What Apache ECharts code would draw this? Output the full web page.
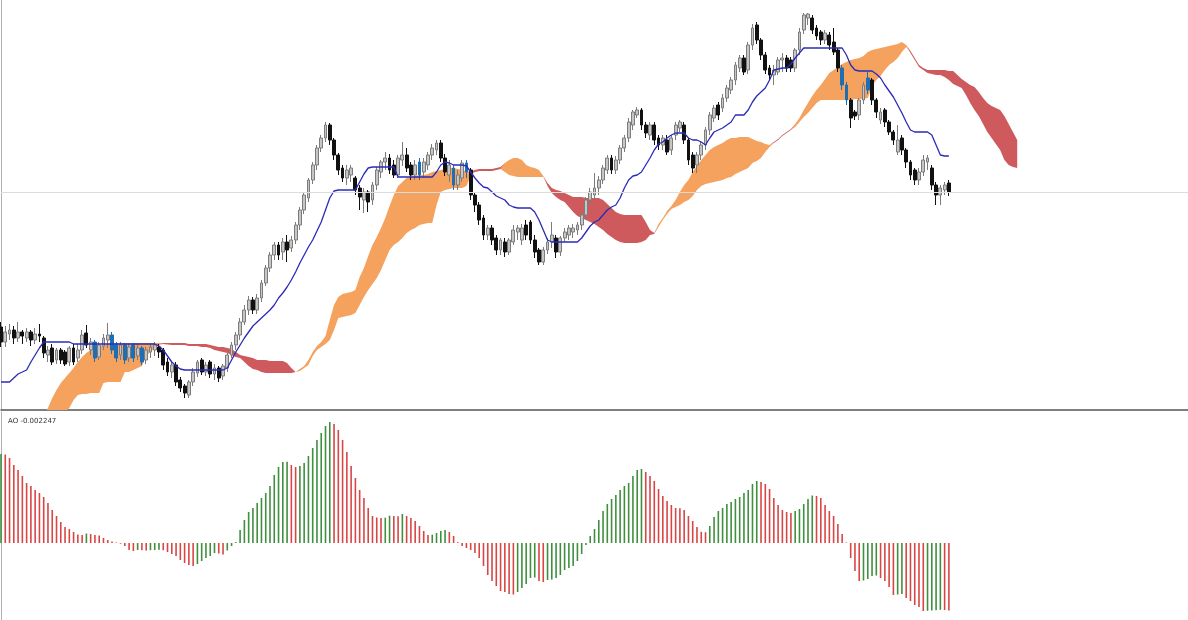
<!DOCTYPE html>
<html><head><meta charset="utf-8">
<script src="https://cdn.jsdelivr.net/npm/echarts@6/dist/echarts.min.js"></script>
<style>html,body{margin:0;padding:0;background:#fff}#c{width:1188px;height:620px}</style>
</head><body><div id="c"></div>
<script>
// candles: [open, close, low, high]
const candles = [
[83,68,63,88],[68,78,63,84],[76,80,70,86],[80,72,66,84],[72,78,68,88],[78,74,66,80],[72,78,68,82],[78,70,64,80],[70,76,66,82],[76,74,68,86],
[72,57,52,74],[55,60,48,64],[62,48,45,66],[50,60,46,62],[60,50,46,62],[58,46,44,60],[48,62,44,64],[62,48,45,66],[52,60,48,66],[60,75,56,80],
[77,65,62,85],[60,68,55,72],[68,52,48,70],[53,65,50,68],[64,72,60,76],[70,75,62,87],[75,60,56,78],[65,52,48,68],[55,65,50,68],[65,50,46,67],
[52,63,48,66],[65,52,48,67],[54,62,50,66],[62,48,45,64],[50,60,46,63],[58,63,52,66],[60,65,54,68],[63,58,52,66],[60,45,40,62],[48,38,34,52],
[38,45,32,48],[45,28,24,48],[30,22,18,33],[24,17,12,26],[15,28,12,30],[28,38,24,42],[37,48,33,50],[50,38,35,52],[38,45,34,48],[48,36,32,50],
[36,42,30,46],[42,32,28,44],[34,44,30,46],[42,55,38,57],[55,65,52,68],[65,75,60,78],[75,88,70,92],[88,100,85,105],[100,110,95,114],[110,100,96,113],
[100,112,96,116],[112,127,108,130],[127,142,124,145],[142,155,138,158],[155,165,150,168],[165,155,150,168],[158,168,150,172],[168,160,148,175],[162,170,158,174],[170,185,166,188],
[185,200,180,203],[200,215,196,218],[212,230,208,232],[230,245,226,248],[245,262,240,265],[262,272,258,275],[272,285,268,288],[285,270,265,287],[270,255,250,272],[255,240,235,257],
[242,232,228,245],[232,240,225,245],[235,242,228,245],[232,220,215,234],[222,213,200,225],[210,218,197,222],[218,208,198,220],[210,225,205,228],[225,240,220,243],[238,248,232,250],
[248,252,240,258],[252,240,236,256],[245,235,232,250],[235,252,232,255],[250,255,244,268],[255,242,238,262],[245,235,230,248],[235,245,230,250],[248,235,230,252],[238,248,232,252],
[245,255,240,258],[255,262,250,266],[260,267,255,270],[267,252,248,270],[252,238,234,256],[235,245,228,250],[242,225,220,245],[225,235,220,240],[232,247,228,250],[247,238,232,250],
[240,215,210,242],[215,205,198,218],[205,190,185,208],[192,175,170,195],[175,182,170,185],[182,170,165,185],[172,160,155,175],[160,170,155,172],[168,158,153,172],[158,170,155,172],
[168,180,165,185],[178,182,170,185],[170,182,165,186],[185,175,170,190],[188,170,166,190],[170,158,152,175],[160,148,145,162],[148,160,145,163],[160,168,156,172],[168,175,162,188],
[172,158,152,175],[158,172,154,174],[172,178,168,182],[175,182,170,185],[178,182,172,186],[180,185,175,188],[185,195,180,198],[195,210,190,213],[210,218,205,222],[215,222,210,237],
[222,230,215,234],[230,242,226,245],[240,252,236,255],[252,240,236,255],[240,250,236,254],[250,262,246,265],[262,272,258,275],[272,288,268,292],[285,298,280,300],[295,300,292,303],
[300,285,280,302],[285,277,272,288],[275,285,270,288],[285,270,265,288],[272,265,260,275],[265,272,260,275],[270,258,255,275],[260,272,255,275],[275,285,270,288],[282,288,278,290],
[285,270,266,288],[270,250,245,272],[255,242,237,258],[245,255,237,258],[255,265,250,268],[265,280,260,283],[280,295,275,298],[292,302,288,305],[305,295,290,308],[302,312,298,316],
[312,322,308,325],[320,330,316,333],[330,345,325,348],[342,352,338,355],[352,338,335,355],[340,365,336,368],[365,382,360,386],[385,370,366,388],[370,355,350,372],[355,340,336,358],
[342,335,330,345],[335,340,325,345],[338,350,335,353],[350,352,338,357],[352,342,338,355],[350,342,338,353],[342,360,338,362],[360,378,355,382],[380,395,376,397],[392,396,385,397],
[392,380,376,395],[382,374,370,385],[378,370,365,380],[370,377,366,380],[375,365,360,378],[368,358,355,382],[360,342,338,362],[342,325,320,345],[325,310,305,328],[310,292,282,312],
[298,294,290,300],[295,310,290,312],[310,325,306,328],[320,332,316,338],[330,310,305,332],[310,298,292,312],[290,298,286,302],[300,288,283,302],[288,278,275,290],[278,270,265,280],
[258,270,255,285],[272,260,255,275],[260,248,242,262],[248,235,230,250],[240,230,225,242],[230,238,225,242],[238,250,234,255],[248,252,240,255],[242,225,220,245],[225,215,205,228],
[215,222,205,225],[220,225,215,228],[227,218,214,230]
];
// candles drawn in blue (inside the cloud)
const blueCandles = [22,26,27,29,31,33,98,106,109,197,198,203];

const kijun = [
28,28,28,32,36,38,40,48,55,62,
68,68,68,68,68,68,68,66,66,66,
66,66,66,66,66,66,66,66,66,66,
66,66,66,66,66,66,66,64,60,54,
48,44,41,40,40,40,40,40,40,40,
40,40,40,42,50,58,65,72,78,84,
88,92,96,100,105,112,117,123,130,138,
147,155,163,170,179,188,200,212,219,220,
220,220,220,220,228,236,242,243,243,243,
243,243,243,233,233,233,233,233,233,233,
233,233,238,245,248,247,245,245,245,244,
238,232,227,223,222,218,214,212,210,205,
203,202,202,202,202,198,190,180,170,168,
168,168,168,168,168,168,172,178,184,188,
190,195,200,203,205,212,222,230,234,235,
238,245,252,260,266,268,272,275,277,277,
277,272,270,270,268,265,272,278,280,282,
285,288,295,295,295,300,308,314,318,322,
330,340,341,342,342,346,352,357,362,362,
362,362,362,362,362,362,362,362,355,345,
340,339,339,339,339,336,332,325,319,313,
305,297,288,280,278,278,278,278,275,265,
255,254,254
];

const senkouA = [
-60,-55,-50,-45,-40,-35,-30,-23,-17,-10,
-4,2,12,20,27,32,37,42,48,53,
57,60,62,64,65,66,67,67,67,67,
67,67,67,67,67,67,67,67,66,65.5,
65,65,65,65,64,64,64,63,63,62,
60,59,58,57,55,53,52,48,44,41,
40,38,37,37,37,37,37,37,37,38,
41,44,50,58,64,68,74,90,105,113,
116,117,118,120,133,142,154,165,173,182,
192,204,215,224,228,232,233,234,235,235,
236,238,239,240,241,242,242,241,240,239,
238,238,239,239,239,239,240,241,247,250,
252,252,250,245,243,242,240,234,224,217,
213,210,208,203,198,194,192,190,188,186,
183,180,176,173,170,168,167,167,167,167,
168,170,175,176,186,192,199,204,210,218,
225,230,238,244,250,255,260,263,265,267,
270,272,272,273,273,273,271,269,268,266,
265,267,270,274,277,280,286,292,300,307,
314,320,325,331,337,340,343,346,348,350,
351,352,354,358,360,361,362,363,364,365,
366,368,365,357,350,343,340,337,336,335,
335,333,330,326,324,322,315,307,300,294,
286,278,272,266,260,250,245,243,242
];
const senkouB = [
-90,-85,-80,-75,-70,-65,-60,-55,-50,-45,
-35,-30,-22,-15,-8,-2,2,10,15,16,
16,17,17,17,27,28,28,28,28,38,
38,40,42,44,54,58,62,65,67,67,
67,67,67,67,66,66,66,66,66,65,
64,63,63,62,61,58,55,54,53,52,
50,50,50,49,49,49,49,47,42,38,
39,42,45,54,60,63,66,70,80,92,
93,94,95,97,105,113,120,126,132,140,
150,160,165,168,172,177,180,182,185,186,
187,187,205,218,220,221,222,222,222,224,
234,240,241,241,241,241,242,243,238,235,
234,233,233,233,233,233,233,233,227,222,
220,219,217,215,213,213,213,212,212,212,
212,210,206,202,198,196,195,195,195,195,
195,188,180,177,183,190,196,201,203,205,
208,210,214,220,224,226,227,228,229,230,
232,233,236,238,240,242,247,249,252,258,
263,268,271,275,278,281,283,288,293,297,
302,307,310,310,310,310,310,310,310,310,
311,311,311,312,324,330,334,340,345,348,
352,358,363,359,352,345,342,340,340,340,
340,340,339,339,335,331,328,325,323,318,
312,307,304,302,300,294,286,278,270
];

const ao = [
89,88.5,85,78,73,67,60,57,53,50,
46,40,33,27,21,16,14,11,8.5,8,
9.5,9,8,7.5,5,3,1.5,0.5,-0.7,-3,
-7,-8,-7,-7.3,-7.6,-7.2,-7,-6.8,-7.2,-9,
-11,-13,-17,-20,-22,-23,-21,-18,-15,-13,
-10,-10.5,-11.5,-7.5,-3,1,13,23,31,35,
40,45,50,57,68,76,81,81.3,78,76,
77,80,87,95,103,110,117,121,119,113,
103,91,77,65,53,45,35,27,25.5,25,
25.3,27.3,27,26.8,29,27,25,22,17,12,
8,8.3,10,12,13,11,7,0.7,-3,-5,
-7,-10,-15,-23,-32,-38,-43,-48,-49,-51,
-51.5,-49,-45,-41,-35,-34.5,-38,-39,-37,-36.5,
-35,-32,-27,-25,-23,-18,-11,-2,7,14,
23,32,39,44,48,53,57,60,67,73,
74,71,67,62,54,47,42,38,35,34.7,
33,27,22,16,11.2,10.8,17,26,32,35,
39,41,44,46,50,53,59,62,61,59,
54,45,38,33,31,30,32,34,39,44,
47.5,47,45,38,32,27,19,9,0.5,-15,
-28,-38,-37.5,-36,-33,-32.5,-35,-38,-44,-52,
-51.5,-51,-55,-58,-62,-64,-68,-67.8,-67.5,-67.2,
-66.8,-67,-67.5
];
const aoLabel = 'AO -0.002247';
const barSlots = 279;
const categories = Array.from({length: barSlots}, (_, i) => 'bar ' + i);

const UP_FILL = '#c6c6c6', UP_BORDER = '#7c7c7c', DOWN = '#111111', BLUE = '#1f6db3';
const candleItems = candles.map((c, i) => {
  let fill, border;
  if (blueCandles.indexOf(i) >= 0) { fill = BLUE; border = BLUE; }
  else if (c[1] >= c[0]) { fill = UP_FILL; border = UP_BORDER; }
  else { fill = DOWN; border = DOWN; }
  return { value: c, itemStyle: { color: fill, color0: fill, borderColor: border, borderColor0: border } };
});

const cloudBase = senkouA.map((a, i) => Math.min(a, senkouB[i]));
const cloudBull = senkouA.map((a, i) => Math.max(a - senkouB[i], 0));
const cloudBear = senkouA.map((a, i) => Math.max(senkouB[i] - a, 0));

const aoItems = ao.map((v, i) => ({
  value: v,
  itemStyle: { color: (i === 0 || v >= ao[i - 1]) ? '#3f8f3f' : '#d94545' }
}));

const lastClose = candles[candles.length - 1][1];

const chart = echarts.init(document.getElementById('c'));
chart.setOption({
  animation: false,
  backgroundColor: '#ffffff',
  title: { text: aoLabel, left: 3, top: 413, textStyle: { fontSize: 7, fontWeight: 'normal', color: '#333', fontFamily: 'DejaVu Sans' } },
  grid: [
    { left: 1, right: 0, top: 0, height: 410 },
    { left: 1, right: 0, top: 412, height: 208 }
  ],
  xAxis: [
    { type: 'category', gridIndex: 0, data: categories, boundaryGap: false,
      axisLine: { show: true, onZero: false, lineStyle: { color: '#555', width: 1.5 } },
      axisTick: { show: false }, axisLabel: { show: false }, splitLine: { show: false } },
    { type: 'category', gridIndex: 1, data: categories, boundaryGap: false,
      axisLine: { show: false }, axisTick: { show: false }, axisLabel: { show: false }, splitLine: { show: false } }
  ],
  yAxis: [
    { type: 'value', gridIndex: 0, min: 0, max: 410, axisLine: { show: true, lineStyle: { color: '#b0b0b0' } },
      axisTick: { show: false }, axisLabel: { show: false }, splitLine: { show: false } },
    { type: 'value', gridIndex: 1, min: -77, max: 131, axisLine: { show: true, lineStyle: { color: '#b0b0b0' } },
      axisTick: { show: false }, axisLabel: { show: false }, splitLine: { show: false } }
  ],
  series: [
    { name: 'cloudBase', type: 'line', stack: 'cloud', stackStrategy: 'all', data: cloudBase,
      showSymbol: false, lineStyle: { width: 0, opacity: 0 }, silent: true, z: 1 },
    { name: 'cloudBull', type: 'line', stack: 'cloud', stackStrategy: 'all', data: cloudBull,
      showSymbol: false, lineStyle: { width: 0, opacity: 0 }, areaStyle: { color: '#f4a25e', opacity: 1 }, silent: true, z: 1 },
    { name: 'cloudBear', type: 'line', stack: 'cloud', stackStrategy: 'all', data: cloudBear,
      showSymbol: false, lineStyle: { width: 0, opacity: 0 }, areaStyle: { color: '#cf5a5e', opacity: 1 }, silent: true, z: 1 },
    { name: 'price', type: 'candlestick', data: candleItems, barWidth: 3.3, z: 3,
      markLine: { silent: true, symbol: 'none', label: { show: false },
        lineStyle: { color: '#dcdcdc', width: 1, type: 'solid' }, data: [{ yAxis: lastClose }] } },
    { name: 'kijun', type: 'line', data: kijun, showSymbol: false, z: 4,
      lineStyle: { color: '#2b2bb8', width: 1.3 } },
    { name: 'AO', type: 'bar', xAxisIndex: 1, yAxisIndex: 1, data: aoItems, barWidth: 1.6 }
  ]
});
</script></body></html>
